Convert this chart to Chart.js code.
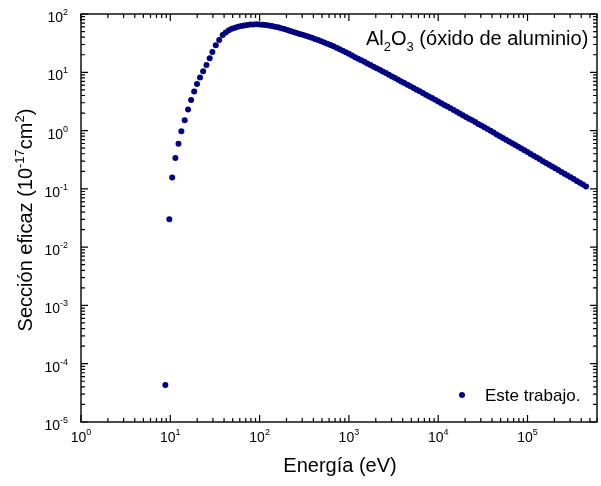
<!DOCTYPE html>
<html>
<head>
<meta charset="utf-8">
<script src="https://cdn.jsdelivr.net/npm/chart.js@4.4.0/dist/chart.umd.min.js"></script>
<style>
  html, body { margin: 0; padding: 0; background: #fff; }
</style>
</head>
<body>
<canvas id="crossChart" width="601" height="486"></canvas>
<script>
// Electron energy (eV)
const energies = [
    8.8, 9.75, 10.5, 11.4, 12.35, 13.3, 14.5, 15.8, 17.1, 18.5, 19.9, 21.5, 23.3, 25.4, 27.6, 29.6, 32.3, 35.3,
    38.6, 41.7, 45.2, 48.9, 53.0, 57.4, 62.1, 67.2, 72.8, 78.8, 85.3, 92.3,
    100, 108.3, 117.2, 126.9, 137.4, 148.7, 161.0, 174.3, 188.7, 204.3, 221.2, 239.5, 259.3, 280.7, 303.9,
    329.0, 356.2, 385.6, 417.5, 452.0, 489.3, 529.8, 573.5, 620.9, 672.2, 727.7, 787.8, 852.9, 923.4,
    1000, 1083, 1172, 1269, 1374, 1487, 1610, 1743, 1887, 2043, 2212, 2395, 2593, 2807, 3039,
    3290, 3562, 3856, 4175, 4520, 4893, 5298, 5735, 6209, 6722, 7277, 7878, 8529, 9234,
    10000, 10830, 11720, 12690, 13740, 14870, 16100, 17430, 18870, 20430, 22120, 23950, 25930, 28070, 30390,
    32900, 35620, 38560, 41750, 45200, 48930, 52980, 57350, 62090, 67220, 72770, 78780, 85290, 92340,
    100000, 108300, 117200, 126900, 137400, 148700, 161000, 174300, 188700, 204300,
    221200, 239500, 259300, 280700, 303900, 329000, 356200, 385600, 417500, 452000
];

// Cross section (10^-17 cm^2)
const crossSection = [
    4.3e-5, 0.030, 0.157, 0.34, 0.594, 0.97, 1.51, 2.31, 3.34, 4.70, 6.28, 8.17, 10.4, 13.4, 17.4, 22.2, 29.0, 35.7,
    43.7, 48.2, 52.4, 55.6, 58.2, 60.5, 62.4, 63.8, 64.9, 65.8, 66.2, 66.4,
    66.1, 65.5, 64.6, 63.4, 62.1, 60.7, 59.0, 57.1, 55.1, 53.1, 51.2, 49.3, 47.4, 45.6, 43.9,
    42.3, 40.6, 39.1, 37.4, 35.7, 34.1, 32.5, 31.0, 29.4, 27.9, 26.4, 24.9, 23.4, 22.0,
    20.7, 19.4, 18.2, 17.1, 16.1, 15.1, 14.2, 13.3, 12.5, 11.7, 11.0, 10.3, 9.68, 9.06, 8.49,
    7.96, 7.46, 6.98, 6.55, 6.12, 5.74, 5.37, 5.02, 4.71, 4.41, 4.12, 3.85, 3.61, 3.37,
    3.16, 2.95, 2.75, 2.58, 2.41, 2.25, 2.10, 1.96, 1.84, 1.71, 1.60, 1.50, 1.40, 1.30, 1.22,
    1.14, 1.06, 0.989, 0.923, 0.859, 0.802, 0.748, 0.697, 0.650, 0.607, 0.565, 0.527, 0.491, 0.458,
    0.427, 0.397, 0.371, 0.345, 0.321, 0.299, 0.279, 0.260, 0.242, 0.225,
    0.210, 0.195, 0.182, 0.169, 0.158, 0.147, 0.137, 0.127, 0.119, 0.110
];

// Decade exponents for the axis labels
const xTickExps = [0, 1, 2, 3, 4, 5];
const yTickExps = [-5, -4, -3, -2, -1, 0, 1, 2];

const seriesLabel = 'Este trabajo.';
const FONT = '"Liberation Sans", Arial, sans-serif';
const NAVY = '#000080';

// draw a run of text pieces: [text, size, baseline shift]
function drawRuns(ctx, runs, x, y, align) {
    let total = 0;
    runs.forEach(r => {
        ctx.font = r[1] + 'px ' + FONT;
        r.w = ctx.measureText(r[0]).width;
        total += r.w;
    });
    let cx = x;
    if (align === 'center') cx = x - total / 2;
    if (align === 'right') cx = x - total;
    runs.forEach(r => {
        ctx.font = r[1] + 'px ' + FONT;
        ctx.fillText(r[0], cx, y + r[2]);
        cx += r.w;
    });
}

const framePlugin = {
    id: 'frame',
    afterDraw(chart) {
        const ctx = chart.ctx;
        const xs = chart.scales.x, ys = chart.scales.y;
        const a = chart.chartArea;
        ctx.save();
        ctx.strokeStyle = '#000';
        ctx.fillStyle = '#000';
        ctx.lineWidth = 1.4;
        ctx.strokeRect(a.left, a.top, a.right - a.left, a.bottom - a.top);

        // inward ticks on all four sides
        ctx.lineWidth = 1.2;
        ctx.beginPath();
        xTickExps.forEach(e => {
            for (let m = 1; m <= 9; m++) {
                const v = m * Math.pow(10, e);
                if (v > xs.max) break;
                const px = xs.getPixelForValue(v);
                const len = m === 1 ? 7 : 4;
                ctx.moveTo(px, a.bottom); ctx.lineTo(px, a.bottom - len);
                ctx.moveTo(px, a.top); ctx.lineTo(px, a.top + len);
            }
        });
        yTickExps.forEach(e => {
            for (let m = 1; m <= 9; m++) {
                const v = m * Math.pow(10, e);
                if (v > ys.max) break;
                const py = ys.getPixelForValue(v);
                const len = m === 1 ? 7 : 4;
                ctx.moveTo(a.left, py); ctx.lineTo(a.left + len, py);
                ctx.moveTo(a.right, py); ctx.lineTo(a.right - len, py);
            }
        });
        ctx.stroke();

        ctx.textAlign = 'left';
        ctx.textBaseline = 'alphabetic';

        // tick labels
        xTickExps.forEach(e => {
            const px = xs.getPixelForValue(Math.pow(10, e));
            drawRuns(ctx, [['10', 14, 0], [String(e), 9, -7]], px, a.bottom + 20, 'center');
        });
        yTickExps.forEach(e => {
            const py = ys.getPixelForValue(Math.pow(10, e));
            drawRuns(ctx, [['10', 14, 0], [String(e), 9, -7]], 68, py + 8, 'right');
        });

        // axis titles
        drawRuns(ctx, [['Energía (eV)', 20, 0]], (a.left + a.right) / 2 + 1, 472, 'center');
        ctx.save();
        ctx.translate(32, 220);
        ctx.rotate(-Math.PI / 2);
        drawRuns(ctx, [['Sección eficaz (10', 20, 0], ['-17', 13, -8], ['cm', 20, 0], ['2', 13, -8], [')', 20, 0]], 0, 0, 'center');
        ctx.restore();

        // compound name
        drawRuns(ctx, [['Al', 20, 0], ['2', 13, 6], ['O', 20, 0], ['3', 13, 6], [' (óxido de aluminio)', 20, 0]], 366, 45, 'left');

        // legend
        ctx.fillStyle = NAVY;
        ctx.beginPath();
        ctx.arc(462, 395, 3, 0, Math.PI * 2);
        ctx.fill();
        ctx.fillStyle = '#000';
        drawRuns(ctx, [[seriesLabel, 17, 0]], 485, 401, 'left');
        ctx.restore();
    }
};

const ctx = document.getElementById('crossChart').getContext('2d');
new Chart(ctx, {
    type: 'scatter',
    data: {
        datasets: [{
            label: seriesLabel,
            data: energies.map((e, i) => ({ x: e, y: crossSection[i] })),
            pointRadius: 3,
            pointBorderWidth: 0,
            pointBackgroundColor: NAVY,
            pointBorderColor: NAVY,
            showLine: false
        }]
    },
    options: {
        responsive: false,
        animation: false,
        layout: { padding: { left: 81, right: 3, top: 14, bottom: 64 } },
        scales: {
            x: { type: 'logarithmic', min: 1, max: 6e5, display: false },
            y: { type: 'logarithmic', min: 1e-5, max: 100, display: false }
        },
        plugins: {
            legend: { display: false },
            tooltip: { enabled: false }
        }
    },
    plugins: [framePlugin]
});
</script>
</body>
</html>
